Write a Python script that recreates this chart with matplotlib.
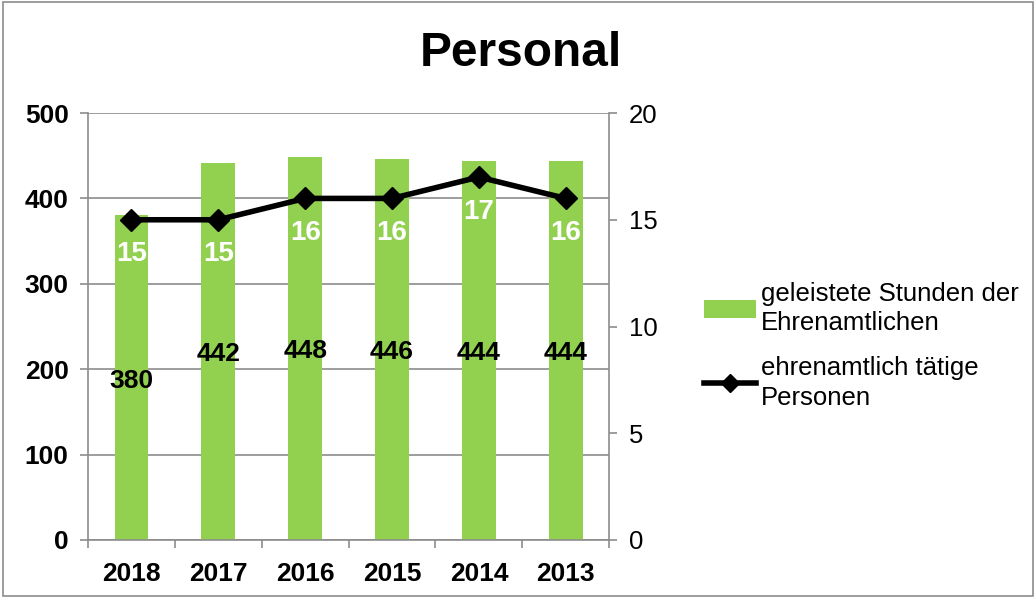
import matplotlib
matplotlib.use("Agg")
import matplotlib.pyplot as plt
from matplotlib.lines import Line2D
from matplotlib.patches import Patch, Rectangle

plt.rcParams['font.family'] = ['Liberation Sans', 'DejaVu Sans']

years = ["2018", "2017", "2016", "2015", "2014", "2013"]
hours = [380, 442, 448, 446, 444, 444]
persons = [15, 15, 16, 16, 17, 16]
left_ticks = [0, 100, 200, 300, 400, 500]
right_ticks = [0, 5, 10, 15, 20]

green = "#92D050"
grid = "#8c8c8c"

fig = plt.figure(figsize=(10.36, 5.98), dpi=100)
fig.patches.append(Rectangle((0.003, 0.003), 0.994, 0.994, transform=fig.transFigure,
                             fill=False, edgecolor="#8c8c8c", linewidth=1.2))
ax = fig.add_axes([0.085, 0.097, 0.503, 0.714])
x = list(range(len(years)))
bars = ax.bar(x, hours, width=0.39, color=green, zorder=2)
ax.set_xlim(-0.5, len(years) - 0.5)
ax.set_ylim(0, 500)
ax.set_yticks(left_ticks)
ax.set_yticklabels([str(t) for t in left_ticks], fontsize=19, fontweight='bold')
ax.set_xticks(x)
ax.set_xticklabels(years, fontsize=19, fontweight='bold')
ax.set_xticks([i - 0.5 for i in range(len(years) + 1)], minor=True)
ax.tick_params(axis='x', which='major', length=0, pad=16)
ax.tick_params(axis='x', which='minor', length=6, color=grid, width=1.2)
ax.tick_params(axis='y', length=6, color=grid, width=1.2, pad=8)
ax.grid(axis='y', color=grid, linewidth=1.2, zorder=0)
for s in ['top', 'right']:
    ax.spines[s].set_visible(False)
for s in ['left', 'bottom']:
    ax.spines[s].set_color(grid)
    ax.spines[s].set_linewidth(1.2)

for xi, h in zip(x, hours):
    ax.annotate(str(h), (xi, h / 2), xytext=(0, -2), textcoords='offset points',
                ha='center', va='center', fontsize=19,
                fontweight='bold', color='black', zorder=5)

ax2 = ax.twinx()
ax2.set_ylim(0, 20)
ax2.set_yticks(right_ticks)
ax2.set_yticklabels([str(t) for t in right_ticks], fontsize=18.5)
ax2.tick_params(axis='y', length=6, color=grid, width=1.2, pad=8)
for s in ['top', 'left', 'bottom']:
    ax2.spines[s].set_visible(False)
ax2.spines['right'].set_color(grid)
ax2.spines['right'].set_linewidth(1.2)
ax2.plot(x, persons, color='black', linewidth=4, marker='D', markersize=11, zorder=4)
for xi, p in zip(x, persons):
    ax2.annotate(str(p), (xi, p), xytext=(0, -25), textcoords='offset points',
                 ha='center', va='center', fontsize=20, fontweight='bold', color='white')

fig.text(0.503, 0.911, "Personal", ha='center', va='center', fontsize=34.5, fontweight='bold')

handles = [Patch(facecolor=green, edgecolor='none'),
           Line2D([0], [0], color='black', linewidth=4, marker='D', markersize=9)]
labels = ["geleistete Stunden der\nEhrenamtlichen", "ehrenamtlich tätige\nPersonen"]
leg = fig.legend(handles, labels, loc='center left', bbox_to_anchor=(0.680, 0.422),
                 frameon=False, fontsize=18.5, handlelength=2.0, handletextpad=0.2,
                 labelspacing=0.8, borderpad=0, borderaxespad=0)
for t in leg.get_texts():
    t.set_linespacing(1.3)

fig.savefig("out.png", dpi=100)
